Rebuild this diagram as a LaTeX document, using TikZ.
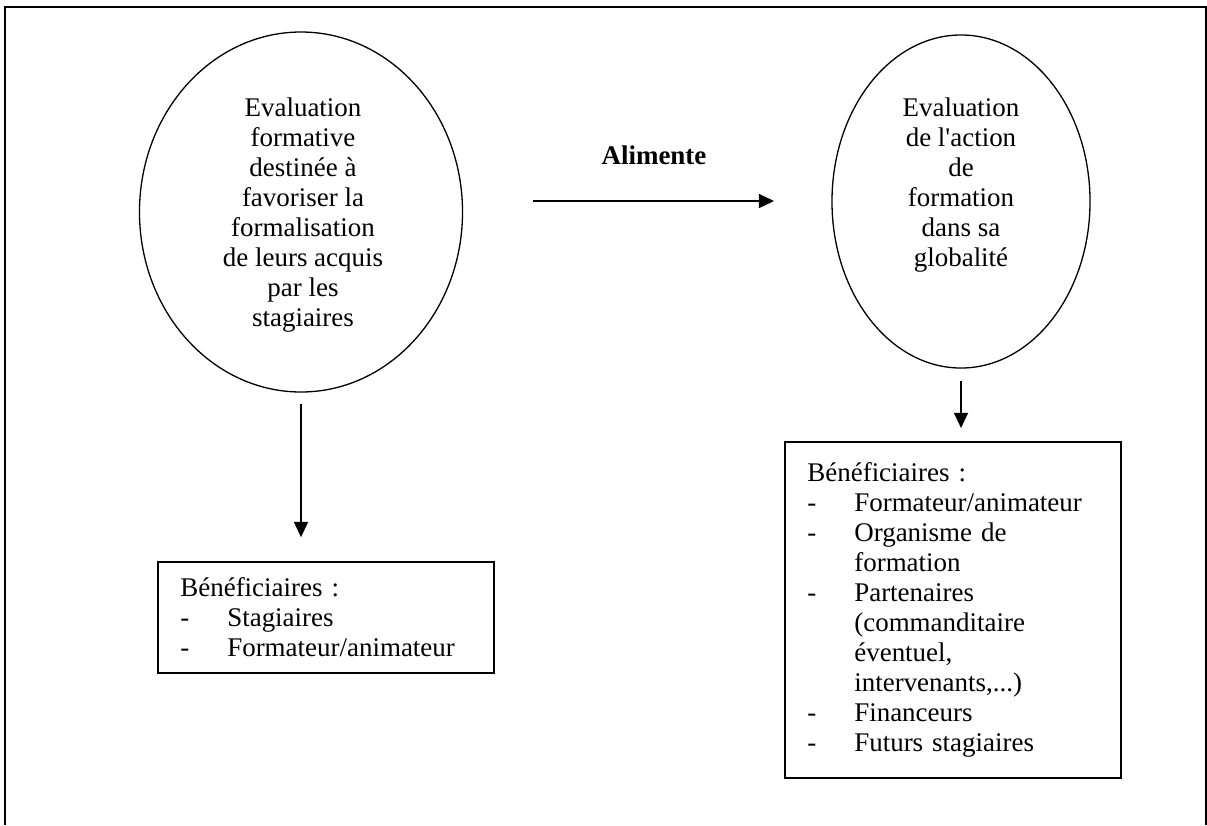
\documentclass[tikz,border=0pt]{standalone}
\usepackage{fontspec}
\setmainfont{Liberation Serif}
\usetikzlibrary{shapes.geometric,arrows.meta}

\newcommand\tiret{\makebox[21.6pt][l]{-}}
\newcommand\suite{\hspace*{21.6pt}}

\begin{document}
\begin{tikzpicture}[x=0.46pt,y=-0.46pt,
    font=\fontsize{12.4}{13.8}\selectfont,
    bulle/.style={draw,ellipse,line width=0.6pt,inner sep=0pt},
    cadre/.style={draw,rectangle,line width=0.9pt,anchor=north west,align=left,
      inner xsep=10pt,inner ysep=0pt,text width=134pt,minimum width=154.6pt},
    fleche/.style={-{Triangle[length=7pt,width=6.5pt]},line width=0.6pt}]
  \useasboundingbox (0,0) rectangle (1207,825);
  \draw[line width=0.9pt] (5,825) -- (5,7) -- (1206,7) -- (1206,825);

  \node[bulle,minimum width=148.6pt,minimum height=165.6pt] (E1) at (301,212) {};
  \node[align=center] (T1) at (303,215) {Evaluation\\formative\\destinée à\\favoriser la\\formalisation\\de leurs acquis\\par les\\stagiaires};
  \node[bulle,minimum width=118.7pt,minimum height=153.2pt] (E2) at (961,201.5) {};
  \node[align=center] (T2) at (961,185) {Evaluation\\de l\textquotesingle action\\de\\formation\\dans sa\\globalité};

  \node (ali) at (654,155) {\textbf{Alimente}};
  \coordinate (A1) at (533,201);
  \coordinate (A2) at (774,201);
  \draw[fleche] (A1) -- (A2);

  \node[cadre,minimum height=51pt] (B1) at (157,561) {Bénéficiaires :\\
    \tiret Stagiaires\\
    \tiret Formateur/animateur};
  \node[cadre,minimum height=154.6pt] (B2) at (784,441) {Bénéficiaires :\\
    \tiret Formateur/animateur\\
    \tiret Organisme de\\
    \suite formation\\
    \tiret Partenaires\\
    \suite (commanditaire\\
    \suite éventuel,\\
    \suite intervenants,...)\\
    \tiret Financeurs\\
    \tiret Futurs stagiaires};

  \draw[fleche,shorten <=5pt,shorten >=11pt] (E1.south) -- (E1.south |- B1.north);
  \draw[fleche,shorten <=5.5pt,shorten >=6pt] (E2.south) -- (E2.south |- B2.north);
\end{tikzpicture}
\end{document}
